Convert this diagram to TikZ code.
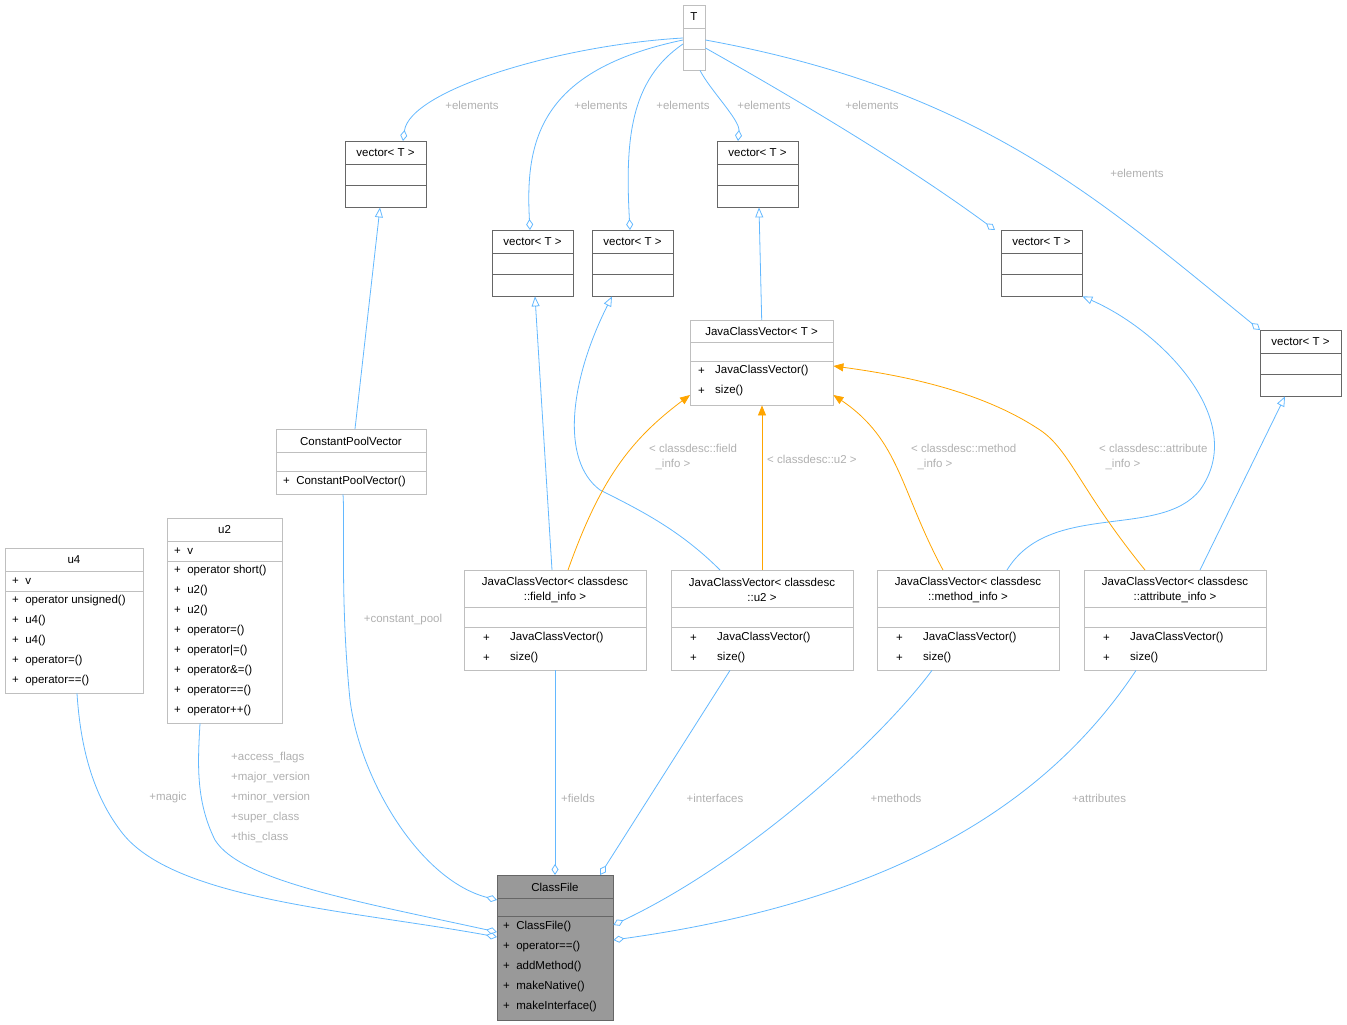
\documentclass[tikz,border=0pt]{standalone}
\usepackage{fontspec}
\setmainfont{Liberation Sans}
\usetikzlibrary{arrows.meta}
\definecolor{edge}{HTML}{63B8FF}
\definecolor{lbl}{HTML}{B0B0B0}
\definecolor{lite}{HTML}{BFBFBF}
\definecolor{dark}{HTML}{666666}
\definecolor{orng}{HTML}{FFA500}
\tikzset{
 lbox/.style={draw=lite,fill=white,anchor=north west,inner sep=0},
 dbox/.style={draw=dark,fill=white,anchor=north west,inner sep=0},
 gbox/.style={draw=dark,fill=black!40,anchor=north west,inner sep=0},
 ttl/.style={font=\fontsize{11.5}{15}\selectfont,align=center,inner sep=0},
 mem/.style={font=\fontsize{11.5}{15}\selectfont,anchor=west,inner sep=0},
 elab/.style={font=\fontsize{11.5}{15}\selectfont,text=lbl,inner sep=0,align=left},
 agg/.style={draw=edge,line width=0.8pt,{Diamond[open,length=11pt,width=7pt]}-},
 inh/.style={draw=edge,line width=0.8pt,-{Triangle[open,length=10pt,width=8pt]}},
 tmp/.style={draw=orng,line width=0.8pt,-{Triangle[length=10pt,width=8pt]}},
}
\newcommand\bx[6]{\node[#6,minimum width=#4pt,minimum height=#5pt] (#1) at (#2,#3) {};}
\newcommand\sep[3]{\draw[#3] (#1.west |- 0,#2) -- (#1.east |- 0,#2);}
\begin{document}
\begin{tikzpicture}[x=1pt,y=-1pt]
\useasboundingbox (0,0) rectangle (1347,1025);
% T
\bx{T}{683}{5}{22}{65}{lbox}
\sep{T}{28}{lite}\sep{T}{49}{lite}
\node[ttl] at (694,16.5) {T};
% vectors
\foreach \n/\x/\y in {va/345/141, vb/492/230, vc/592/230, vd/717/141, ve/1001/230, vf/1260/330}{
 \bx{\n}{\x}{\y}{81}{66}{dbox}
 \sep{\n}{\y+23}{dark}\sep{\n}{\y+44}{dark}
 \node[ttl] at (\x+40.5,\y+12) {vector< T >};
}
% JavaClassVector<T>
\bx{J}{690}{320}{143}{85}{lbox}
\sep{J}{342}{lite}\sep{J}{361}{lite}
\node[ttl] at (761.5,331) {JavaClassVector< T >};
\node[mem] at (698,371) {+}; \node[mem] at (715,371) {JavaClassVector()};
\node[mem] at (698,391) {+}; \node[mem] at (715,391) {size()};
% ConstantPoolVector
\bx{C}{276}{429}{150}{65}{lbox}
\sep{C}{452}{lite}\sep{C}{471}{lite}
\node[ttl] at (351,441) {ConstantPoolVector};
\node[mem] at (283,482) {+\ \ ConstantPoolVector()};
% u4
\bx{U}{5}{548}{138}{145}{lbox}
\sep{U}{571}{lite}\sep{U}{591}{lite}
\node[ttl] at (74,560) {u4};
\node[mem] at (12,581) {+\ \ v};
\foreach \t [count=\i] in {operator unsigned(),u4(),u4(),operator=(),operator==()}
 \node[mem] at (12,601+20*\i-20) {+\ \ \t};
% u2
\bx{V}{167}{518}{115}{205}{lbox}
\sep{V}{541}{lite}\sep{V}{561}{lite}
\node[ttl] at (224.5,530) {u2};
\node[mem] at (174,551) {+\ \ v};
\foreach \t [count=\i] in {operator short(),u2(),u2(),operator=(),operator{|}=(),operator\&=(),operator==(),operator++()}
 \node[mem] at (174,571+20*\i-20) {+\ \ \t};
% JCV instances
\foreach \n/\x/\a in {Jf/464/::field\_info >, Ju/671/::u2 >, Jm/877/::method\_info >, Ja/1084/::attribute\_info >}{
 \bx{\n}{\x}{570}{182}{100}{lbox}
 \sep{\n}{607}{lite}\sep{\n}{627}{lite}
 \node[ttl] at (\x+91,589.5) {JavaClassVector< classdesc\\\a};
 \node[mem] at (\x+19,638) {+}; \node[mem] at (\x+46,638) {JavaClassVector()};
 \node[mem] at (\x+19,658) {+}; \node[mem] at (\x+46,658) {size()};
}
% ClassFile
\bx{CF}{497}{875}{116}{145}{gbox}
\sep{CF}{898}{dark}\sep{CF}{916}{dark}
\node[ttl] at (555,887) {ClassFile};
\foreach \t [count=\i] in {ClassFile(),operator==(),addMethod(),makeNative(),makeInterface()}
 \node[mem] at (503,927+20*\i-20) {+\ \ \t};
% T -> vectors
\draw[agg] (va.north -| 403,0) .. controls (410,90) and (560,45) .. (T.west |- 0,38);
\draw[agg] (vb.north -| 530,0) .. controls (525,140) and (540,70) .. (T.west |- 0,40);
\draw[agg] (vc.north -| 630,0) .. controls (625,140) and (630,80) .. (T.west |- 0,44);
\draw[agg] (vd.north -| 738,0) .. controls (740,120) and (710,90) .. (T.south -| 700,0);
\draw[agg] (ve.north -| 995,0) .. controls (900,160) and (780,90) .. (T.east |- 0,48);
\draw[agg] (vf.north -| 1260,0) .. controls (1100,200) and (980,90) .. (T.east |- 0,40);
\node[elab] at (472,105) {+elements};
\node[elab] at (601,105) {+elements};
\node[elab] at (683,105) {+elements};
\node[elab] at (764,105) {+elements};
\node[elab] at (872,105) {+elements};
\node[elab] at (1137,173) {+elements};
% inheritance
\draw[inh] (C.north -| 355,0) -- (va.south -| 380,0);
\draw[inh] (Jf.north -| 552,0) -- (vb.south -| 535,0);
\draw[inh] (Ju.north -| 720,0) .. controls (680,530) and (640,510) .. (600,490) .. controls (560,460) and (570,380) .. (vc.south -| 612,0);
\draw[inh] (J.north) -- (vd.south -| 759,0);
\draw[inh] (Jm.north -| 1007,0) .. controls (1050,500) and (1160,540) .. (1200,490) .. controls (1250,420) and (1160,330) .. (ve.south east);
\draw[inh] (Ja.north -| 1200,0) -- (vf.south -| 1285,0);
% template
\draw[tmp] (Jf.north -| 568,0) .. controls (600,480) and (630,440) .. (J.west |- 0,395);
\draw[tmp] (Ju.north -| 762,0) -- (J.south -| 762,0);
\draw[tmp] (Jm.north -| 943,0) .. controls (900,490) and (900,440) .. (J.east |- 0,395);
\draw[tmp] (Ja.north -| 1145,0) .. controls (1080,490) and (1070,450) .. (1040,430) .. controls (980,390) and (900,375) .. (J.east |- 0,366);
\node[elab,align=left,anchor=north west] at (649,444) {< classdesc::field\\\ \ \_info >};
\node[elab,anchor=north west] at (767,455) {< classdesc::u2 >};
\node[elab,align=left,anchor=north west] at (911,444) {< classdesc::method\\\ \ \_info >};
\node[elab,align=left,anchor=north west] at (1099,444) {< classdesc::attribute\\\ \ \_info >};
% to ClassFile
\draw[agg] (CF.west |- 0,937) .. controls (350,910) and (170,900) .. (120,830) .. controls (90,790) and (80,740) .. (U.south -| 77,0);
\draw[agg] (CF.west |- 0,932) .. controls (350,900) and (240,880) .. (215,840) .. controls (195,800) and (198,760) .. (V.south -| 200,0);
\draw[agg] (CF.west |- 0,900) .. controls (420,880) and (360,780) .. (350,700) .. controls (340,600) and (345,520) .. (C.south -| 343,0);
\draw[agg] (CF.north -| 555,0) -- (Jf.south -| 555,0);
\draw[agg] (CF.north -| 600,0) -- (Ju.south -| 730,0);
\draw[agg] (CF.east |- 0,925) .. controls (750,860) and (880,740) .. (Jm.south -| 932,0);
\draw[agg] (CF.east |- 0,940) .. controls (900,900) and (1050,800) .. (Ja.south -| 1136,0);
\node[elab] at (168,798) {+magic};
\node[elab,anchor=north west,align=left] at (231,752) {+access\_flags\\[5pt]+major\_version\\[5pt]+minor\_version\\[5pt]+super\_class\\[5pt]+this\_class};
\node[elab] at (403,620) {+constant\_pool};
\node[elab] at (578,798) {+fields};
\node[elab] at (715,798) {+interfaces};
\node[elab] at (896,798) {+methods};
\node[elab] at (1099,798) {+attributes};
\end{tikzpicture}
\end{document}
